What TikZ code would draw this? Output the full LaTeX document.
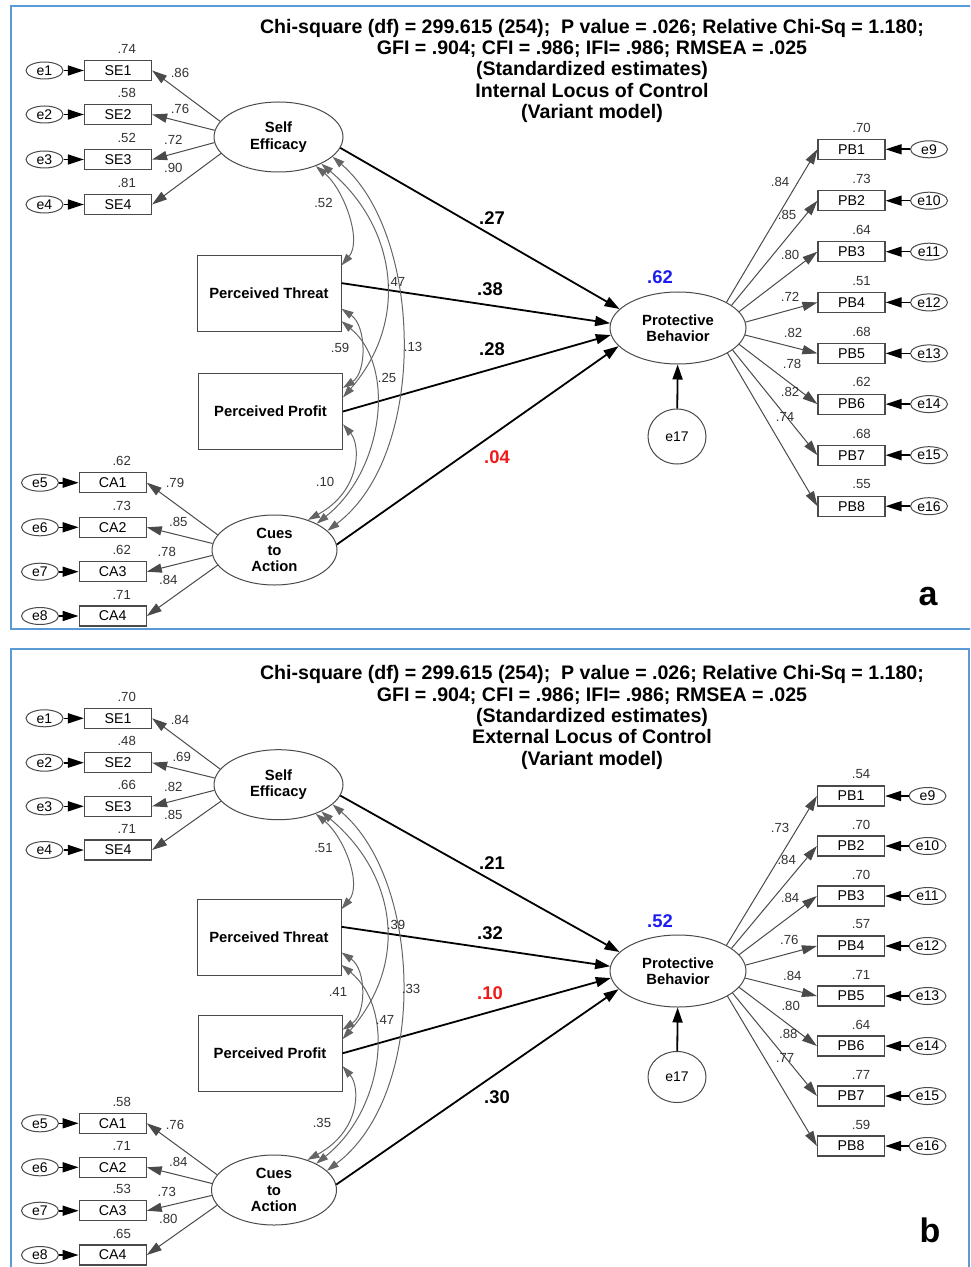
\documentclass[tikz,border=0pt]{standalone}
\usepackage{fontspec}
\setmainfont{Liberation Sans}
\usepackage{tikz}
\usetikzlibrary{shapes.geometric,arrows.meta}

\definecolor{framecol}{HTML}{5B9BD5}
\definecolor{edgecol}{HTML}{4A4A4A}
\definecolor{rsqcol}{HTML}{1C1CF2}
\definecolor{lowcol}{HTML}{F01A1A}

\begin{document}
\begin{tikzpicture}[x=0.5pt,y=-0.5pt]
	\tikzstyle{frame} = [draw=framecol, line width=1pt]
	\tikzstyle{heading} = [align=center, inner sep=0pt, font=\fontsize{9.8}{10.65}\selectfont\bfseries]
	\tikzstyle{latent} = [ellipse, draw=edgecol, line width=0.5pt, align=center, inner sep=0pt, font=\fontsize{7.4}{8.25}\selectfont\bfseries]
	\tikzstyle{construct} = [rectangle, draw=edgecol, line width=0.5pt, minimum width=72pt, minimum height=38pt, inner sep=0pt, font=\fontsize{7.4}{8.25}\selectfont\bfseries]
	\tikzstyle{indicator} = [rectangle, draw=edgecol, line width=0.6pt, minimum width=33.5pt, minimum height=10pt, inner sep=0pt, font=\fontsize{7.1}{8}\selectfont]
	\tikzstyle{err} = [ellipse, draw=edgecol, line width=0.5pt, minimum width=18.5pt, minimum height=8.5pt, inner sep=0pt, font=\fontsize{7}{8}\selectfont]
	\tikzstyle{val} = [inner sep=0pt, text=black!80, font=\fontsize{6.6}{7}\selectfont]
	\tikzstyle{coef} = [inner sep=0pt, font=\fontsize{9.2}{10}\selectfont\bfseries]
	\tikzstyle{load} = [draw=edgecol, line width=0.5pt, -{Triangle[length=7.5pt,width=4.6pt]}]
	\tikzstyle{errarrow} = [draw=black, line width=0.8pt, -{Triangle[length=8pt,width=5pt]}]
	\tikzstyle{effect} = [draw=black, line width=0.9pt, -{Triangle[length=7.5pt,width=5pt]}]
	\tikzstyle{cov} = [draw=edgecol!85, line width=0.5pt, {Triangle[length=6pt,width=3.8pt]}-{Triangle[length=6pt,width=3.8pt]}]
	\tikzstyle{tag} = [inner sep=0pt, font=\fontsize{17}{17}\selectfont\bfseries]

	\useasboundingbox (0,0) rectangle (970,1267);
	\clip (0,0) rectangle (970,1267);

	% panel a: internal locus of control
	\begin{scope}[name prefix=a-]
		\draw [frame] (11,6) rectangle (972,629);
		\node [heading] (title) at (592,70.8) {Chi-square (df) = 299.615 (254);\ \ P value = .026; Relative Chi-Sq = 1.180;\\GFI = .904; CFI = .986; IFI= .986; RMSEA = .025\\(Standardized estimates)\\Internal Locus of Control\\(Variant model)};

		\node [latent, minimum width=64.5pt, minimum height=35pt] (SE) at (278.5,137) {Self\\Efficacy};
		\node [construct] (PT) at (269,293.3) {Perceived Threat};
		\node [construct] (PP) at (270.5,411.5) {Perceived Profit};
		\node [latent, minimum width=62.5pt, minimum height=35pt] (CA) at (274.5,550) {Cues\\to\\Action};
		\node [latent, minimum width=68pt, minimum height=36pt] (PB) at (678,328) {Protective\\Behavior};
		\node [err, minimum width=29pt, minimum height=27.5pt] (e17) at (677,436.5) {e17};
		\node [coef, text=rsqcol] (r2) at (660,277.6) {.62};

		\foreach \i/\y/\v/\l/\lx/\ly/\a in {1/70.5/.74/.86/180/72.7/165, 2/114.5/.58/.76/180/109.3/174, 3/159.5/.52/.72/173.3/140/185, 4/204.5/.81/.90/173.3/168.3/196}{
			\node [err] (e\i) at (44.5,\y) {e\i};
			\node [indicator] (SE\i) at (118,\y) {SE\i};
			\node [val] (vSE\i) at (126.7,\y-21.5) {\v};
			\node [val] (lSE\i) at (\lx,\ly) {\l};
			\draw [errarrow] (e\i) -- (SE\i);
			\draw [load] (SE.\a) -- (SE\i.east);
		}
		\foreach \i/\y/\v/\l/\lx/\ly/\a [count=\k from 5] in {1/482.7/.62/.79/175/483.3/165, 2/527.3/.73/.85/178.3/521.7/174, 3/571.7/.62/.78/166.7/552.3/185, 4/616/.71/.84/168.3/580/195}{
			\node [err] (e\k) at (40,\y) {e\k};
			\node [indicator] (CA\i) at (112.7,\y) {CA\i};
			\node [val] (vCA\i) at (121.7,\y-21.5) {\v};
			\node [val] (lCA\i) at (\lx,\ly) {\l};
			\draw [errarrow] (e\k) -- (CA\i);
			\draw [load] (CA.\a) -- (CA\i.east);
		}
		\foreach \i/\y/\v/\l/\lx/\ly/\a [count=\k from 9] in {1/149.3/.70/.84/780/182/28, 2/200.7/.73/.85/787/214.8/23, 3/251.7/.64/.80/790/254.5/15, 4/302.4/.51/.72/790/296.6/5, 5/353.4/.68/.82/793/332.8/-6, 6/404.1/.62/.78/792/363.8/-15, 7/455.2/.68/.82/790/392.4/-22, 8/506.2/.55/.74/785/416.6/-27}{
			\node [indicator] (PB\i) at (851.5,\y) {PB\i};
			\node [err] (e\k) at (929,\y) {e\k};
			\node [val] (vPB\i) at (861.5,\y-21.7) {\v};
			\node [val] (lPB\i) at (\lx,\ly) {\l};
			\draw [errarrow] (e\k) -- (PB\i);
			\draw [load] (PB.\a) -- (PB\i.west);
		}

		\draw [effect] (SE.-10) -- (PB.162);
		\draw [effect] (PT.8) -- (PB.176);
		\draw [effect] (PP.east) -- (PB.186);
		\draw [effect] (CA.5) -- (PB.197);
		\draw [effect] (e17) -- (PB);
		\node [coef] (cSE) at (492,218) {.27};
		\node [coef] (cPT) at (490,289) {.38};
		\node [coef] (cPP) at (492,349) {.28};
		\node [coef, text=lowcol] (cCA) at (497,457) {.04};

		\draw [cov] (SE.-38) .. controls +(28,23) and +(21,-25) .. (PT.21);
		\draw [cov] (SE.-32) .. controls +(74,62) and +(68,-78) .. (PP.11);
		\draw [cov] (SE.-20) .. controls +(91,78) and +(101,-76) .. (CA.20);
		\draw [cov] (PT.-12) .. controls +(25,17) and +(24,-16) .. (PP.18);
		\draw [cov] (PT.-21) .. controls +(55,45) and +(67,-53) .. (CA.32);
		\draw [cov] (PP.-10) .. controls +(18,21) and +(53,-29) .. (CA.42);
		\node [val] (k1) at (323.5,203) {.52};
		\node [val] (k2) at (396,282) {.47};
		\node [val] (k3) at (413,347) {.13};
		\node [val] (k4) at (340,348) {.59};
		\node [val] (k5) at (387,378) {.25};
		\node [val] (k6) at (325,482) {.10};

		\node [tag] (letter) at (928,596.6) {a};
	\end{scope}

	% panel b: external locus of control
	\begin{scope}[name prefix=b-]
		\draw [frame] (11,649) rectangle (969,1300);
		\node [heading] (title) at (592,717.5) {Chi-square (df) = 299.615 (254);\ \ P value = .026; Relative Chi-Sq = 1.180;\\GFI = .904; CFI = .986; IFI= .986; RMSEA = .025\\(Standardized estimates)\\External Locus of Control\\(Variant model)};

		\node [latent, minimum width=64.5pt, minimum height=35pt] (SE) at (278.5,784.7) {Self\\Efficacy};
		\node [construct] (PT) at (269,937) {Perceived Threat};
		\node [construct] (PP) at (270,1053.3) {Perceived Profit};
		\node [latent, minimum width=62.5pt, minimum height=35pt] (CA) at (274,1190) {Cues\\to\\Action};
		\node [latent, minimum width=68pt, minimum height=36pt] (PB) at (678,971) {Protective\\Behavior};
		\node [err, minimum width=29pt, minimum height=25.5pt] (e17) at (677,1077) {e17};
		\node [coef, text=rsqcol] (r2) at (660,921) {.52};

		\foreach \i/\y/\v/\l/\lx/\ly/\a in {1/718.3/.70/.84/180/720/165, 2/762.7/.48/.69/181.7/756.7/174, 3/806.3/.66/.82/173.3/786.7/185, 4/850/.71/.85/173.3/815/196}{
			\node [err] (e\i) at (44.5,\y) {e\i};
			\node [indicator] (SE\i) at (118,\y) {SE\i};
			\node [val] (vSE\i) at (126.7,\y-21.5) {\v};
			\node [val] (lSE\i) at (\lx,\ly) {\l};
			\draw [errarrow] (e\i) -- (SE\i);
			\draw [load] (SE.\a) -- (SE\i.east);
		}
		\foreach \i/\y/\v/\l/\lx/\ly/\a [count=\k from 5] in {1/1123.3/.58/.76/175/1125/165, 2/1167.3/.71/.84/178.3/1161.7/174, 3/1210.7/.53/.73/166.7/1191.7/185, 4/1255/.65/.80/168.3/1219.3/195}{
			\node [err] (e\k) at (40,\y) {e\k};
			\node [indicator] (CA\i) at (112.7,\y) {CA\i};
			\node [val] (vCA\i) at (121.7,\y-21.5) {\v};
			\node [val] (lCA\i) at (\lx,\ly) {\l};
			\draw [errarrow] (e\k) -- (CA\i);
			\draw [load] (CA.\a) -- (CA\i.east);
		}
		\foreach \i/\y/\v/\l/\lx/\ly/\a [count=\k from 9] in {1/796/.54/.73/780/827.7/28, 2/846/.70/.84/786.7/860/23, 3/896/.70/.84/790/898.3/15, 4/946/.57/.76/789.3/940/5, 5/996/.71/.84/792.3/976/-6, 6/1046/.64/.80/790.7/1006/-15, 7/1096/.77/.88/788.3/1034/-22, 8/1146/.59/.77/785/1058.3/-27}{
			\node [indicator] (PB\i) at (851,\y) {PB\i};
			\node [err] (e\k) at (927.5,\y) {e\k};
			\node [val] (vPB\i) at (861,\y-21.5) {\v};
			\node [val] (lPB\i) at (\lx,\ly) {\l};
			\draw [errarrow] (e\k) -- (PB\i);
			\draw [load] (PB.\a) -- (PB\i.west);
		}

		\draw [effect] (SE.-10) -- (PB.162);
		\draw [effect] (PT.8) -- (PB.176);
		\draw [effect] (PP.east) -- (PB.186);
		\draw [effect] (CA.5) -- (PB.197);
		\draw [effect] (e17) -- (PB);
		\node [coef] (cSE) at (492,863) {.21};
		\node [coef] (cPT) at (490,933) {.32};
		\node [coef, text=lowcol] (cPP) at (490,993) {.10};
		\node [coef] (cCA) at (497,1097) {.30};

		\draw [cov] (SE.-38) .. controls +(28,23) and +(21,-25) .. (PT.21);
		\draw [cov] (SE.-32) .. controls +(74,62) and +(68,-78) .. (PP.11);
		\draw [cov] (SE.-20) .. controls +(91,78) and +(101,-76) .. (CA.20);
		\draw [cov] (PT.-12) .. controls +(25,17) and +(24,-16) .. (PP.18);
		\draw [cov] (PT.-21) .. controls +(55,45) and +(67,-53) .. (CA.32);
		\draw [cov] (PP.-10) .. controls +(18,21) and +(53,-29) .. (CA.42);
		\node [val] (k1) at (323.5,848.3) {.51};
		\node [val] (k2) at (396,925) {.39};
		\node [val] (k3) at (411,989) {.33};
		\node [val] (k4) at (338,992) {.41};
		\node [val] (k5) at (385,1020) {.47};
		\node [val] (k6) at (322,1123) {.35};

		\node [tag] (letter) at (930,1230) {b};
	\end{scope}
\end{tikzpicture}
\end{document}
